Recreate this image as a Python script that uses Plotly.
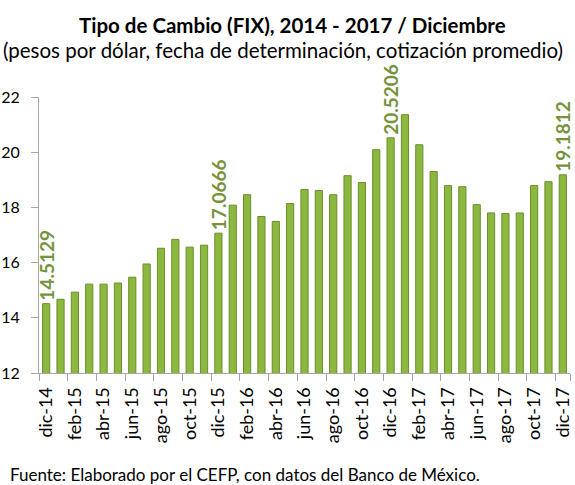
import plotly.graph_objects as go

months = ["dic-14", "ene-15", "feb-15", "mar-15", "abr-15", "may-15", "jun-15", "jul-15",
          "ago-15", "sep-15", "oct-15", "nov-15", "dic-15", "ene-16", "feb-16", "mar-16",
          "abr-16", "may-16", "jun-16", "jul-16", "ago-16", "sep-16", "oct-16", "nov-16",
          "dic-16", "ene-17", "feb-17", "mar-17", "abr-17", "may-17", "jun-17", "jul-17",
          "ago-17", "sep-17", "oct-17", "nov-17", "dic-17"]
fix = [14.5129, 14.67, 14.93, 15.22, 15.22, 15.26, 15.47, 15.95,
       16.52, 16.84, 16.56, 16.63, 17.0666, 18.08, 18.46, 17.67,
       17.49, 18.14, 18.65, 18.61, 18.46, 19.15, 18.90, 20.09,
       20.5206, 21.36, 20.27, 19.30, 18.79, 18.75, 18.10, 17.80,
       17.78, 17.80, 18.79, 18.93, 19.1812]
labeled = ["dic-14", "dic-15", "dic-16", "dic-17"]
tick_labels = months[::2]
y_ticks = [12, 14, 16, 18, 20, 22]

bar_text = [f"{v:.4f}" if m in labeled else "" for m, v in zip(months, fix)]

fig = go.Figure(go.Bar(
    x=months, y=fix,
    marker=dict(color="#8DB83F", line=dict(color="#6A8E2C", width=1)),
    text=bar_text, textposition="outside", textangle=-90,
    constraintext="none", cliponaxis=False,
    textfont=dict(family="Lato", size=19, color="#76933C", weight="bold"),
))

L, R, T, B = 39, 5, 97, 112
W, H = 575, 485
pw, ph = W - L - R, H - T - B

def px(x):
    return (x - L) / pw

def py(y):
    return (H - B - y) / ph

fig.update_layout(
    width=W, height=H,
    margin=dict(l=L, r=R, t=T, b=B, autoexpand=False),
    paper_bgcolor="white", plot_bgcolor="white",
    bargap=0.5, showlegend=False,
    font=dict(family="Lato", color="black"),
    xaxis=dict(
        type="category", tickmode="array", tickvals=tick_labels, ticktext=tick_labels,
        tickangle=-90, tickson="boundaries", ticks="outside", ticklen=7,
        tickcolor="#A6A6A6", showline=True, linecolor="#A6A6A6", linewidth=1,
        tickfont=dict(size=18, color="black"), showgrid=False,
        ticklabelstandoff=6,
    ),
    yaxis=dict(
        range=[12, 22], tickvals=y_ticks, ticks="outside", ticklen=7,
        tickcolor="#A6A6A6", showline=True, linecolor="#A6A6A6", linewidth=1,
        tickfont=dict(size=16, color="black"), showgrid=False, zeroline=False,
        ticklabelstandoff=8,
    ),
    annotations=[
        dict(text="<b>Tipo de Cambio (FIX), 2014 - 2017 / Diciembre</b>",
             xref="paper", yref="paper", x=px(292), y=py(25), xanchor="center", yanchor="middle",
             showarrow=False, font=dict(size=20.5, color="black")),
        dict(text="(pesos por dólar, fecha de determinación, cotización promedio)",
             xref="paper", yref="paper", x=px(283), y=py(50), xanchor="center", yanchor="middle",
             showarrow=False, font=dict(size=20.5, color="black")),
        dict(text="Fuente: Elaborado por el CEFP, con datos del Banco de México.",
             xref="paper", yref="paper", x=px(8), y=py(475), xanchor="left", yanchor="middle",
             showarrow=False, font=dict(size=17, color="black")),
    ],
)

fig.write_html("out.html", config={"displayModeBar": False},
               post_script="document.body.style.margin='0';")
